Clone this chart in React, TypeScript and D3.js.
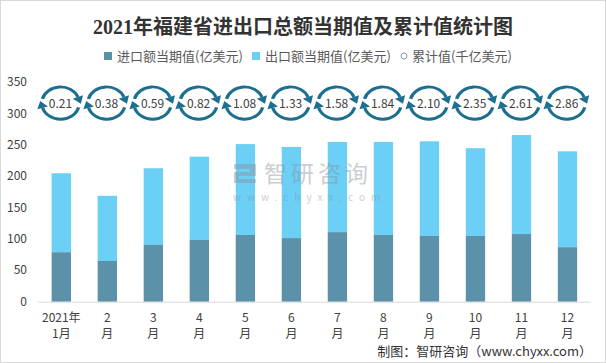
import React from "react";
import * as d3 from "d3";

const months = ["2021年\n1月", "2\n月", "3\n月", "4\n月", "5\n月", "6\n月", "7\n月", "8\n月", "9\n月", "10\n月", "11\n月", "12\n月"];
const importValues = [79, 65, 90.5, 98.5, 106.5, 101.5, 111, 106.5, 105, 105, 108, 87];
const exportValues = [126, 104, 122.5, 133, 145, 145.5, 144, 148.5, 151, 140, 158, 153];
const cumulativeLabels = ["0.21", "0.38", "0.59", "0.82", "1.08", "1.33", "1.58", "1.84", "2.10", "2.35", "2.61", "2.86"];
const yTicks = [0, 50, 100, 150, 200, 250, 300, 350];
const legendNames = ["进口额当期值(亿美元)", "出口额当期值(亿美元)", "累计值(千亿美元)"];

const W = 606;
const H = 363;
const IMPORT_COLOR = "#5b91a9";
const EXPORT_COLOR = "#6bcff6";
const RING_COLOR = "#1d6f8f";
const FONT = "'Noto Sans CJK SC', 'Microsoft YaHei', sans-serif";

function ringIcon(cx: number, cy: number) {
  const r = 17;
  const toRad = (d: number) => (d * Math.PI) / 180;
  const p1 = d3.path();
  p1.arc(0, 0, r, toRad(195), toRad(338), false);
  const p2 = d3.path();
  p2.arc(0, 0, r, toRad(15), toRad(163), false);
  const head = (deg: number) => {
    const s = toRad(deg);
    const px = r * Math.cos(s);
    const py = r * Math.sin(s);
    const tx = -Math.sin(s);
    const ty = Math.cos(s);
    const nx = Math.cos(s);
    const ny = Math.sin(s);
    const L = 7.5;
    const w = 5;
    return `M${px + nx * w},${py + ny * w}L${px - nx * w},${py - ny * w}L${px + tx * L},${py + ty * L}Z`;
  };
  return (
    <g transform={`translate(${cx},${cy}) scale(1.1,0.95)`}>
      <path d={p1.toString()} fill="none" stroke={RING_COLOR} strokeWidth={3} />
      <path d={p2.toString()} fill="none" stroke={RING_COLOR} strokeWidth={3} />
      <path d={head(338)} fill={RING_COLOR} />
      <path d={head(163)} fill={RING_COLOR} />
    </g>
  );
}

export default function App() {
  const x = d3.scaleBand<string>().domain(months).range([38.3, 590.5]).paddingInner(0.58).paddingOuter(0.29);
  const y = d3.scaleLinear().domain([0, 350]).range([301.7, 82.4]);
  const bw = x.bandwidth();
  const ringY = y(317);

  return (
    <svg width={W} height={H} style={{ position: "absolute", left: 0, top: 0, background: "#fff" }}>
      <rect x={0.5} y={0.5} width={W - 1} height={H - 1} fill="#fff" stroke="#d9d9d9" />
      <text x={303} y={34} textAnchor="middle" fontSize={20} fontWeight="bold" fill="#333"
        fontFamily="'Liberation Serif', 'Noto Sans CJK SC', serif">2021年福建省进出口总额当期值及累计值统计图</text>

      {/* legend */}
      <g fontFamily={FONT} fontSize={13} fill="#595959">
        <rect x={104} y={52} width={8} height={8} fill={IMPORT_COLOR} />
        <text x={117} y={61}>{legendNames[0]}</text>
        <rect x={252} y={52} width={8} height={8} fill={EXPORT_COLOR} />
        <text x={265} y={61}>{legendNames[1]}</text>
        <circle cx={404} cy={56} r={3} fill="#fff" stroke="#7f9fb0" strokeWidth={1} />
        <text x={412} y={61}>{legendNames[2]}</text>
      </g>

      {/* y axis labels */}
      <g fontFamily={FONT} fontSize={12} fill="#404040" textAnchor="end">
        {yTicks.map((t) => (
          <text key={t} x={27} y={y(t) + 4}>{t}</text>
        ))}
      </g>

      {/* bars */}
      {months.map((m, i) => {
        const x0 = x(m)!;
        const imp = importValues[i];
        const tot = imp + exportValues[i];
        return (
          <g key={m}>
            <rect x={x0} y={y(tot)} width={bw} height={y(imp) - y(tot)} fill={EXPORT_COLOR} />
            <rect x={x0} y={y(imp)} width={bw} height={y(0) - y(imp)} fill={IMPORT_COLOR} />
          </g>
        );
      })}

      {/* watermark */}
      <g opacity={0.45} fill="#8a949b">
        <rect x={234} y={164} width={22} height={5} />
        <rect x={250} y={164} width={6} height={11} />
        <rect x={238} y={172} width={18} height={4} />
        <rect x={234} y={172} width={5} height={11} />
        <rect x={234} y={179} width={22} height={4} />
        <text x={264} y={182} fontFamily={FONT} fontSize={23} letterSpacing={4}>智研咨询</text>
        <text x={233} y={201} fontFamily={FONT} fontSize={10} letterSpacing={6}>www.chyxx.com</text>
      </g>

      <line x1={38.3} x2={590.5} y1={y(0) + 0.5} y2={y(0) + 0.5} stroke="#d9d9d9" />

      {/* x labels */}
      <g fontFamily={FONT} fontSize={12} fill="#404040" textAnchor="middle">
        {months.map((m) => {
          const [a, b] = m.split("\n");
          const cx = x(m)! + bw / 2;
          return (
            <g key={m}>
              <text x={cx} y={322}>{a}</text>
              <text x={cx} y={338}>{b}</text>
            </g>
          );
        })}
      </g>

      {/* cumulative rings */}
      {months.map((m, i) => {
        const cx = x(m)! + bw / 2 - 0.8;
        return (
          <g key={"r" + m}>
            {ringIcon(cx, ringY)}
            <text x={cx} y={ringY + 4.5} textAnchor="middle" fontFamily={FONT} fontSize={12} fill="#404040">
              {cumulativeLabels[i]}
            </text>
          </g>
        );
      })}

      <text x={592} y={356} textAnchor="end" fontFamily={FONT} fontSize={13} fill="#333">制图：智研咨询（www.chyxx.com）</text>
    </svg>
  );
}
